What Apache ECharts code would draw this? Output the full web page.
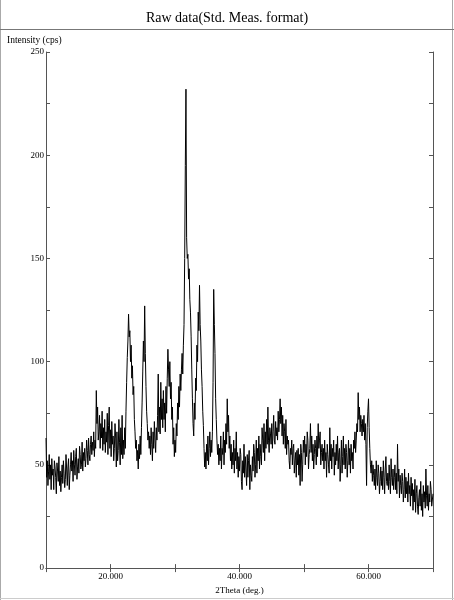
<!DOCTYPE html>
<html>
<head>
<meta charset="utf-8">
<script src="https://cdn.jsdelivr.net/npm/echarts@6/dist/echarts.min.js"></script>
<style>html,body{margin:0;padding:0;background:#fff;}#c{width:454px;height:600px;}</style>
</head>
<body>
<div id="c"></div>
<script>
// 2Theta grid: 10.0 .. 70.0 deg, step 0.1 deg
const thetaStart = 10;
const thetaStep = 0.1;
// Intensity (cps), one row per degree (10 samples each)
const intensity = [
63,44,52,40,47,55,43,50,38,53,
45,48,38,52,49,44,36,51,47,42,
54,40,47,37,44,50,41,52,46,39,
43,55,48,40,49,53,38,45,50,56,
47,52,42,57,50,45,54,58,43,49,
53,46,59,55,48,50,61,47,56,52,
58,49,53,62,57,50,63,55,52,60,
64,55,61,57,66,54,62,58,86,70,
78,62,66,74,58,70,63,76,57,68,
60,72,56,66,61,75,55,69,78,58,
67,54,71,60,64,52,58,70,63,49,
66,52,57,72,61,50,68,55,74,53,
62,55,68,58,76,90,102,110,123,112,
115,100,108,92,98,84,88,72,66,58,
62,52,57,48,60,53,64,55,68,80,
95,110,100,127,104,88,76,70,62,66,
58,64,55,68,60,52,66,58,71,62,
56,68,62,74,94,66,78,65,90,72,
82,68,86,72,80,66,88,75,92,106,
96,88,100,82,90,72,78,60,68,54,
62,56,70,64,80,72,88,78,94,86,
96,104,94,108,118,150,195,232,160,150,
152,140,145,130,124,112,96,82,70,64,
80,72,92,86,108,100,124,115,137,118,
110,96,88,76,69,58,49,56,48,60,
52,64,50,58,66,54,62,56,66,90,
135,118,104,82,72,62,55,60,50,58,
52,64,48,58,55,66,50,62,56,70,
60,82,66,74,58,64,52,60,48,56,
50,62,46,58,52,66,48,56,44,54,
47,58,55,42,38,52,46,60,44,54,
48,40,55,44,52,57,38,50,45,42,
54,47,60,56,44,50,62,46,58,52,
64,48,60,54,50,68,62,56,70,52,
66,58,72,60,78,62,56,68,65,60,
70,58,66,74,62,60,71,64,68,62,
76,66,72,82,70,78,64,74,60,70,
66,58,72,55,64,60,62,52,48,58,
55,62,50,58,60,46,52,56,44,57,
50,58,45,55,40,60,56,42,50,62,
56,64,50,60,54,66,62,48,55,58,
70,56,64,52,60,48,55,62,58,50,
64,54,70,58,62,66,50,56,60,52,
58,48,62,52,56,44,60,55,50,46,
68,52,60,48,58,54,62,45,56,50,
60,52,64,48,56,58,42,50,62,46,
54,64,50,58,48,60,56,44,52,62,
50,58,46,60,52,56,48,62,58,66,
56,62,70,66,85,72,78,66,74,70,
64,72,66,74,62,70,60,40,68,76,
82,68,58,50,46,52,42,50,45,40,
48,38,52,44,40,50,46,36,42,49,
40,47,38,52,44,36,48,54,42,40,
46,38,50,42,36,53,44,40,48,38,
44,50,38,46,36,60,42,48,34,45,
40,36,46,42,32,38,48,34,44,36,
42,32,46,36,40,30,44,35,41,28,
38,32,43,27,36,40,30,26,34,38,
30,42,28,36,25,40,32,37,29,48,
35,30,40,28,36,32,42,38,30,33,
36
];
const xLabels = [20, 40, 60];
const yLabels = [0, 50, 100, 150, 200, 250];
const titleText = 'Raw data(Std. Meas. format)';
const yName = 'Intensity (cps)';
const xName = '2Theta (deg.)';

const twoTheta = intensity.map((_, i) => +(thetaStart + i * thetaStep).toFixed(1));
const seriesData = intensity.map((v, i) => [twoTheta[i], v]);

const FONT = 'Liberation Serif';
const AX = '#555';
const chart = echarts.init(document.getElementById('c'), null, {renderer: 'canvas'});
const baseX = {
  type: 'value', min: 10, max: 70, interval: 10,
  axisLine: {show: true, lineStyle: {color: AX, width: 1}},
  axisTick: {show: true, inside: true, length: 4, lineStyle: {color: AX}},
  splitLine: {show: false}
};
const baseY = {
  type: 'value', min: 0, max: 250, interval: 25,
  axisLine: {show: true, lineStyle: {color: AX, width: 1}},
  axisTick: {show: true, inside: true, length: 4, lineStyle: {color: AX}},
  splitLine: {show: false}
};
chart.setOption({
  animation: false,
  backgroundColor: '#fff',
  title: {
    text: titleText, left: 'center', top: 6,
    textStyle: {fontFamily: FONT, fontSize: 14, fontWeight: 'normal', color: '#000'}
  },
  grid: {left: 46, right: 21, top: 52, bottom: 27},
  xAxis: [
    Object.assign({}, baseX, {
      position: 'bottom',
      name: xName, nameLocation: 'middle', nameGap: 17,
      nameTextStyle: {fontFamily: FONT, fontSize: 9, color: '#000'},
      axisLabel: {
        show: true, margin: 4, fontFamily: FONT, fontSize: 9, color: '#000',
        formatter: v => xLabels.includes(v) ? v.toFixed(3) : ''
      }
    }),
    Object.assign({}, baseX, {position: 'top', axisLabel: {show: false}})
  ],
  yAxis: [
    Object.assign({}, baseY, {
      position: 'left',
      axisLabel: {
        show: true, margin: 2, fontFamily: FONT, fontSize: 9, color: '#000',
        formatter: v => yLabels.includes(v) ? String(v) : ''
      }
    }),
    Object.assign({}, baseY, {position: 'right', axisLabel: {show: false}})
  ],
  graphic: [
    {type: 'line', shape: {x1: 0.5, y1: 0, x2: 0.5, y2: 600}, style: {stroke: '#aaa', lineWidth: 1}, silent: true},
    {type: 'line', shape: {x1: 452.5, y1: 0, x2: 452.5, y2: 600}, style: {stroke: '#aaa', lineWidth: 1}, silent: true},
    {type: 'line', shape: {x1: 0, y1: 598.5, x2: 454, y2: 598.5}, style: {stroke: '#ccc', lineWidth: 1}, silent: true},
    {type: 'line', shape: {x1: 0, y1: 29.5, x2: 454, y2: 29.5}, style: {stroke: '#777', lineWidth: 1}, silent: true},
    {type: 'text', left: 7, top: 35, style: {text: yName, fontFamily: FONT, fontSize: 9.5, fill: '#000'}, silent: true}
  ],
  series: [{
    type: 'line', xAxisIndex: 0, yAxisIndex: 0,
    data: seriesData, showSymbol: false, symbol: 'none',
    lineStyle: {color: '#000', width: 1},
    sampling: null
  }]
});
</script>
</body>
</html>
